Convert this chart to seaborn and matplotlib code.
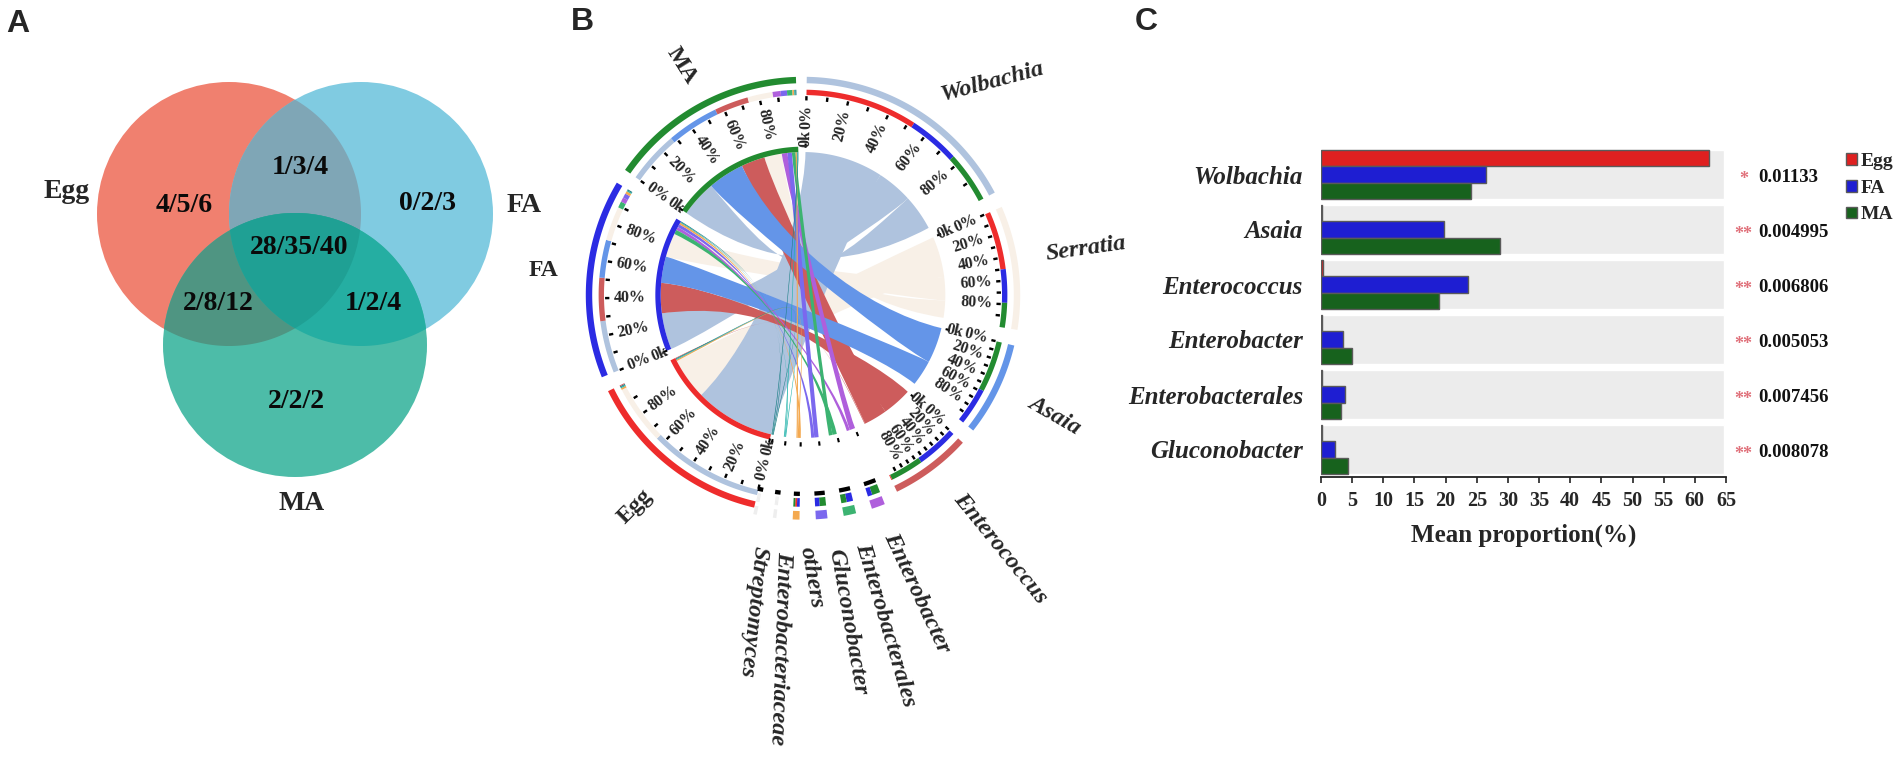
import numpy as np
import pandas as pd
import matplotlib
matplotlib.use("Agg")
import matplotlib.pyplot as plt
from matplotlib.patches import Circle, Polygon, PathPatch
from matplotlib.path import Path
import seaborn as sns

# panel A
venn_sets = ["Egg", "FA", "MA"]
venn_labels = ["4/5/6", "1/3/4", "0/2/3", "28/35/40", "2/8/12", "1/2/4", "2/2/2"]

# panel B, rows are samples, columns are genera
samples = ["Egg", "FA", "MA"]
genera_b = ["Wolbachia", "Serratia", "Asaia", "Enterococcus", "Enterobacter", "Enterobacterales",
            "Gluconobacter", "others", "Enterobacteriaceae", "Streptomyces"]
egg_flow = [64, 33, 0, 0.5, 0, 0, 0, 1, 0.6, 0.6]
fa_flow = [29, 19, 21, 24, 2.5, 3.5, 2.5, 1.5, 0.6, 0.6]
ma_flow = [29, 14, 29, 19, 4.5, 3, 3.5, 1, 0.6, 0.6]

# panel C
genera_c = ["Wolbachia", "Asaia", "Enterococcus", "Enterobacter", "Enterobacterales", "Gluconobacter"]
egg_mean = [62.3, 0.1, 0.4, 0.1, 0.1, 0.1]
fa_mean = [26.5, 19.7, 23.6, 3.5, 3.8, 2.3]
ma_mean = [24.0, 28.7, 19.0, 5.0, 3.2, 4.4]
stars = ["*", "**", "**", "**", "**", "**"]
pvalues = ["0.01133", "0.004995", "0.006806", "0.005053", "0.007456", "0.008078"]
x_ticks = list(range(0, 70, 5))

W, H = 1902, 760
sns.set_theme(style="white")
plt.rcParams["font.family"] = ["Liberation Serif", "DejaVu Serif"]
fig = plt.figure(figsize=(W / 100, H / 100), dpi=100)

# full figure axes in pixels, for A, B and the panel letters
bg = fig.add_axes([0, 0, 1, 1])
bg.set_xlim(0, W)
bg.set_ylim(H, 0)
bg.axis("off")

for letter, lx, ly in [("A", 18, 32), ("B", 582, 30), ("C", 1146, 30)]:
    bg.text(lx, ly, letter, family="Liberation Sans", weight="bold", fontsize=23, ha="center", va="baseline")

# ---------- venn ----------
centres = {"Egg": (229, 214), "FA": (361, 214), "MA": (295, 345)}
rv = 132
base_col = {"Egg": "#F0806F", "FA": "#80CBE1", "MA": "#4DBCA8"}
over_col = {("Egg", "FA"): "#7FA6B6", ("Egg", "MA"): "#4F9582", ("FA", "MA"): "#25AEA2",
            ("Egg", "FA", "MA"): "#1FA094"}

def circle_pts(name):
    t = np.linspace(0, 2 * np.pi, 720, endpoint=False)
    cx, cy = centres[name]
    return np.c_[cx + rv * np.cos(t), cy + rv * np.sin(t)]

def inside(pts, name):
    cx, cy = centres[name]
    return (pts[:, 0] - cx) ** 2 + (pts[:, 1] - cy) ** 2 <= rv ** 2

def overlap(names):
    keep = []
    for n in names:
        p = circle_pts(n)
        for m in names:
            if m != n:
                p = p[inside(p, m)]
        keep.append(p)
    keep = np.vstack(keep)
    c = keep.mean(axis=0)
    return keep[np.argsort(np.arctan2(keep[:, 1] - c[1], keep[:, 0] - c[0]))]

for n in venn_sets:
    bg.add_patch(Circle(centres[n], rv, fc=base_col[n], ec="none"))
for names, col in over_col.items():
    bg.add_patch(Polygon(overlap(names), fc=col, ec="none"))

venn_xy = [(184, 205), (300, 168), (427, 204), (299, 248), (218, 303), (373, 303), (296, 402)]
for txt, (x, y) in zip(venn_labels, venn_xy):
    bg.text(x, y, txt, weight="bold", fontsize=20, ha="center", va="center", color="#0a0a0a")
for txt, (x, y) in zip(venn_sets, [(67, 192), (524, 205), (302, 503)]):
    bg.text(x, y, txt, weight="bold", fontsize=20, ha="center", va="center")

# ---------- chord ----------
CX, CY, RX, RY = 803, 295, 214, 215
sample_col = {"Egg": "#EE2C2C", "FA": "#2B2BE3", "MA": "#228B30"}
genus_col = dict(zip(genera_b, ["#AFC3DE", "#F8F0E7", "#6495E8", "#CD5C5C", "#AF5FDC", "#3CB371",
                                "#7B68EE", "#F4A950", "#20B2AA", "#1B7F85"]))
flows = np.array([egg_flow, fa_flow, ma_flow])

def polar(theta, r):
    a = np.radians(theta)
    return np.c_[CX + RX * r * np.sin(a), CY - RY * r * np.cos(a)]

def band(t0, t1, r0, r1, col, z=3):
    t = np.linspace(t0, t1, max(int(abs(t1 - t0) * 3), 2))
    pts = np.vstack([polar(t, r1), polar(t[::-1], r0)])
    bg.add_patch(Polygon(pts, fc=col, ec="none", zorder=z))

def pull(theta, other, r):
    # close ends get bent further in, opposite ends stay almost straight
    sep = abs((theta - other + 180) % 360 - 180)
    k = min(0.1 + (180 - sep) / 110, 1.15)
    return polar(theta, r * (1 - k))[0]

def ribbon(a0, a1, ra, b0, b1, rb, col):
    ta = polar(np.linspace(a0, a1, 30), ra)
    tb = polar(np.linspace(b0, b1, 30), rb)
    verts = list(ta) + [pull(a1, b0, ra), pull(b0, a1, rb), tb[0]] + list(tb[1:]) + \
        [pull(b1, a0, rb), pull(a0, b1, ra), ta[0]]
    codes = [Path.MOVETO] + [Path.LINETO] * 29 + [Path.CURVE4] * 3 + [Path.LINETO] * 29 + [Path.CURVE4] * 3
    bg.add_patch(PathPatch(Path(verts, codes), fc=col, ec="none", zorder=2))

# sector layout, each sector's links are ordered from large to small
SCALE_G, SCALE_S, GAP_G, GAP_S = 0.5, 0.51, 4.2, 4.0
g_links, s_links, g_span, s_span = {}, {}, {}, {}
pos = 1.0
for j, g in enumerate(genera_b):
    start = pos
    for i in np.argsort(-flows[:, j], kind="stable"):
        v = flows[i, j]
        if v > 0:
            g_links[(i, j)] = (pos, pos + v * SCALE_G)
            pos += v * SCALE_G
    g_span[g] = (start, pos)
    pos += GAP_G
pos = 193.0
for i, s in enumerate(samples):
    start = pos
    for j in np.argsort(-flows[i, :], kind="stable"):
        v = flows[i, j]
        if v > 0:
            s_links[(i, j)] = (pos, pos + v * SCALE_S)
            pos += v * SCALE_S
    s_span[s] = (start, pos)
    pos += GAP_S

def tick_marks(t0, t1, small=False):
    band(t0 - 0.4, t0 + 0.4, 0.685, 0.705, "black")
    if small:
        mid = (t0 + t1) / 2
        half = max((t1 - t0) / 2, 0.8)
        band(mid - half, mid + half, 0.915, 0.935, "black")
        return
    for k in range(10):
        t = t0 + (t1 - t0) * k / 10
        band(t - 0.35, t + 0.35, 0.905, 0.925, "black")
    for k in range(5):
        t = t0 + (t1 - t0) * k / 5
        rot = 90 - t if t < 180 else 270 - t
        ha = "right" if t < 180 else "left"
        x, y = polar(t, 0.885)[0]
        bg.text(x, y, f"{k * 20}%", weight="bold", fontsize=11.5, rotation=rot, rotation_mode="anchor",
                ha=ha, va="center", zorder=5)
    x, y = polar(t0, 0.765)[0]
    rot = 90 - t0 if t0 < 180 else 270 - t0
    bg.text(x, y, "0k", weight="bold", fontsize=11.5, rotation=rot, rotation_mode="anchor",
            ha="right" if t0 < 180 else "left", va="center", zorder=5)

draw_order = [1, 0, 3, 2, 4, 5, 6, 7, 8, 9]
for j in draw_order:
    for i in range(len(samples)):
        if (i, j) in s_links:
            a0, a1 = s_links[(i, j)]
            b0, b1 = g_links[(i, j)]
            ribbon(a0, a1, 0.665, b0, b1, 0.665, genus_col[genera_b[j]])

for i, s in enumerate(samples):
    t0, t1 = s_span[s]
    band(t0, t1, 0.985, 1.015, sample_col[s])
    band(t0, t1, 0.665, 0.69, sample_col[s])
    for (a, j), (l0, l1) in s_links.items():
        if a == i:
            band(l0, l1, 0.93, 0.955, genus_col[genera_b[j]])
    tick_marks(t0, t1)

for j, g in enumerate(genera_b):
    t0, t1 = g_span[g]
    small = (t1 - t0) < 5
    faint = (t1 - t0) < 1.2
    r_in = (0.945, 0.985) if small else (0.93, 0.955)
    r_out = (1.005, 1.045) if small else (0.985, 1.015)
    band(t0, t1, r_out[0], r_out[1], "#EEEEEE" if faint else genus_col[g])
    for (i, b), (l0, l1) in g_links.items():
        if b == j:
            band(l0, l1, r_in[0], r_in[1], "#EEEEEE" if faint else sample_col[samples[i]])
    tick_marks(t0, t1, small)

chord_text = [("Wolbachia", 992, 82, 15), ("Serratia", 1086, 249, 8), ("Asaia", 1055, 415, -30),
              ("Enterococcus", 1000, 548, -51), ("Enterobacter", 917, 593, -65),
              ("Enterobacterales", 885, 625, -73.6), ("Gluconobacter", 847, 622, -80),
              ("others", 811, 578, -80), ("Enterobacteriaceae", 780, 648, -92), ("Streptomyces", 753, 612, -96)]
for txt, x, y, rot in chord_text:
    bg.text(x, y, txt, weight="bold", style="italic", fontsize=17.5, rotation=rot, ha="center", va="center",
            rotation_mode="anchor")
for txt, x, y, rot in [("MA", 682, 66, -58), ("FA", 543, 270, 0), ("Egg", 635, 507, 45)]:
    bg.text(x, y, txt, weight="bold", fontsize=17, rotation=rot, ha="center", va="center", rotation_mode="anchor")

# ---------- bars ----------
ax = fig.add_axes([1321 / W, 1 - 477 / H, (1726 - 1321) / W, (477 - 147) / H])
ax.patch.set_alpha(0)
df = pd.DataFrame({"genus": genera_c * 3,
                   "group": ["Egg"] * 6 + ["FA"] * 6 + ["MA"] * 6,
                   "mean": egg_mean + fa_mean + ma_mean})
ax.barh(range(6), [64.7] * 6, height=0.885, color="#ECECEC", zorder=0)
sns.barplot(data=df, y="genus", x="mean", hue="group", order=genera_c, orient="h",
            palette={"Egg": "#FF0000", "FA": "#0000F0", "MA": "#0B6E12"},
            width=0.885, gap=0, edgecolor="#5a5a5a", linewidth=1, ax=ax, zorder=2)
ax.set_xlim(0, 65)
ax.set_ylim(5.5, -0.5)
ax.set_xticks(x_ticks)
ax.set_xticklabels([str(t) for t in x_ticks], weight="bold", fontsize=14.5)
ax.set_yticks(range(6))
ax.set_yticklabels(genera_c, weight="bold", style="italic", fontsize=18)
ax.tick_params(axis="x", length=4, width=1.2, color="#222222", pad=6, bottom=True)
ax.tick_params(axis="y", length=0, pad=13)
ax.set_xlabel("Mean proportion(%)", weight="bold", fontsize=18, labelpad=9)
ax.set_ylabel("")
sns.despine(ax=ax, left=True)
ax.spines["bottom"].set_linewidth(1.3)
ax.spines["bottom"].set_color("#222222")

for k in range(6):
    ax.text(67.8, k + 0.09, stars[k], color="#E0707A", weight="bold", fontsize=13, ha="center", va="center")
    ax.text(70.1, k + 0.05, pvalues[k], weight="bold", fontsize=13.5, ha="left", va="center", color="#111111")

sns.move_legend(ax, "upper left", bbox_to_anchor=(1846 / W, 1 - 153 / H), bbox_transform=fig.transFigure,
                frameon=False, title=None, prop={"weight": "bold", "size": 14}, handlelength=0.55, handleheight=0.55,
                handletextpad=0.2, labelspacing=0.5, borderpad=0, borderaxespad=0)

fig.savefig("out.png", dpi=100)
